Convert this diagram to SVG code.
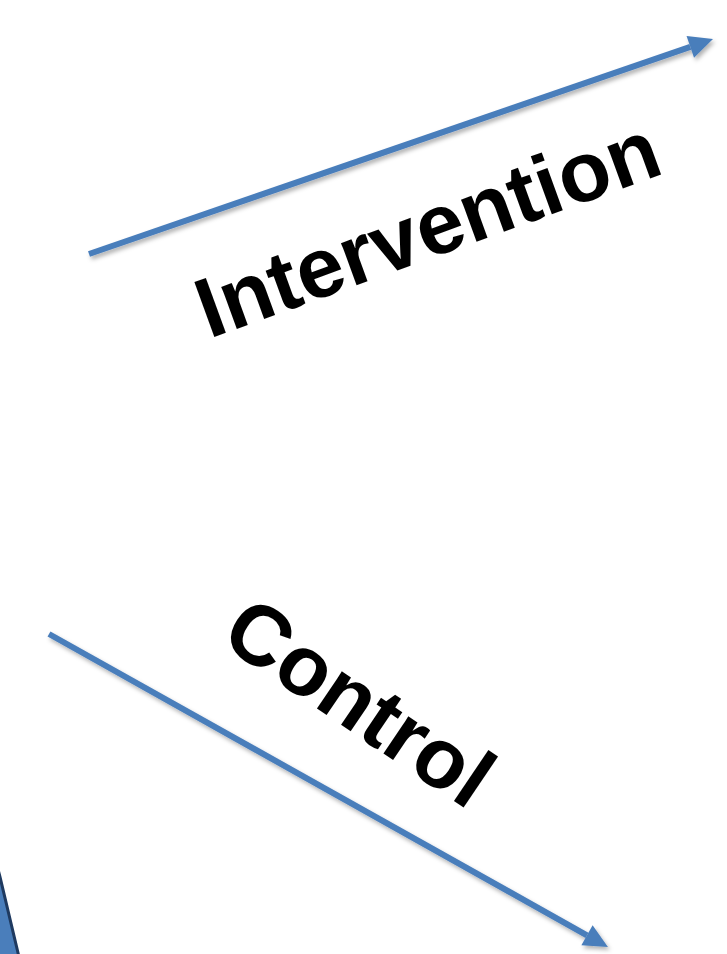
<svg xmlns="http://www.w3.org/2000/svg" width="727" height="954" viewBox="0 0 727 954">
  <style>
    .conn { stroke: #4A7EBB; stroke-width: 6; fill: none; filter: url(#shadow); }
    .label { font-family: "Liberation Sans", Arial, sans-serif; font-weight: bold; font-size: 85px; fill: #000000; }
  </style>
  <defs>
    <filter id="shadow" x="-20%" y="-20%" width="140%" height="140%">
      <feDropShadow dx="2" dy="3" stdDeviation="2" flood-color="#000" flood-opacity="0.3"/>
    </filter>
    <marker id="arrow" markerUnits="userSpaceOnUse" viewBox="0 -12 25 24" refX="0" refY="0" markerWidth="25" markerHeight="24" orient="auto" overflow="visible">
      <path d="M0,-11.5 L24,0 L0,11.5 Z" fill="#4A7EBB"/>
    </marker>
  </defs>
  <rect width="727" height="954" fill="#FFFFFF"/>
  <g id="corner-shape">
    <path d="M-20,800 L0,877 L19,957 L-20,957 Z" fill="#4A7EBB" stroke="#1F3A60" stroke-width="3"/>
  </g>
  <g id="connectors">
    <line class="conn" x1="89" y1="254" x2="690.3" y2="46.8" marker-end="url(#arrow)"/>
    <line class="conn" x1="49" y1="634" x2="587" y2="935.3" marker-end="url(#arrow)"/>
  </g>
  <g id="intervention">
    <text class="label" transform="translate(209,339) rotate(-20)">Intervention</text>
  </g>
  <g id="control">
    <text class="label" transform="translate(218,642) rotate(34)">Control</text>
  </g>
</svg>
